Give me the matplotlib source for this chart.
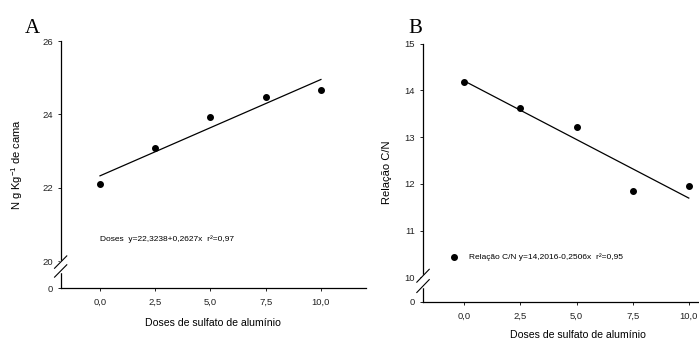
import numpy as np
import matplotlib
matplotlib.use('Agg')
import matplotlib.pyplot as plt

plt.rcParams['font.family'] = ['Liberation Sans', 'DejaVu Sans']
plt.rcParams['mathtext.fontset'] = 'custom'
plt.rcParams['mathtext.rm'] = 'Liberation Sans'
plt.rcParams['mathtext.it'] = 'Liberation Sans:italic'

## data
doses = [0.0, 2.5, 5.0, 7.5, 10.0]
dose_labels = ['0,0', '2,5', '5,0', '7,5', '10,0']
n_cama = [22.09, 23.07, 23.92, 24.48, 24.67]
rel_cn = [14.17, 13.63, 13.21, 11.84, 11.95]

# regression coefficients (from the figure)
a_n, b_n = 22.3238, 0.2627
a_cn, b_cn = 14.2016, -0.2506

# broken y axis: where the "0" sits on the compressed part
a_bottom = 19.265
b_bottom = 9.482
a_yticks = [a_bottom, 20, 22, 24, 26]
a_yticklabels = ['0', '20', '22', '24', '26']
b_yticks = [b_bottom, 10, 11, 12, 13, 14, 15]
b_yticklabels = ['0', '10', '11', '12', '13', '14', '15']

txt_a = 'Doses  y=22,3238+0,2627x  r\u00b2=0,97'
txt_b = 'Rela\u00e7\u00e3o C/N y=14,2016-0,2506x  r\u00b2=0,95'


def style_axes(ax, yticks, yticklabels, ylo, yhi, brk, sep, xpad):
    ax.set_xlim(-1.78, 12.04)
    ax.set_ylim(ylo, yhi)
    ax.set_xticks(doses)
    ax.set_xticklabels(dose_labels)
    ax.set_yticks(yticks)
    ax.set_yticklabels(yticklabels)
    ax.spines['top'].set_visible(False)
    ax.spines['right'].set_visible(False)
    for s in ['left', 'bottom']:
        ax.spines[s].set_linewidth(0.9)
    ax.tick_params(axis='both', direction='out', length=2.2, width=0.7,
                   labelsize=6.8, colors='#222222')
    ax.tick_params(axis='x', pad=5)
    ax.tick_params(axis='y', pad=3.5)
    ax.set_xlabel('Doses de sulfato de alum\u00ednio', fontsize=7.6, labelpad=xpad)
    # axis break marks "//"
    kw = dict(transform=ax.transAxes, color='black', lw=0.8, clip_on=False, zorder=4)
    ax.plot([0, 0], [brk - sep, brk + sep], color='white', lw=2.5,
            transform=ax.transAxes, clip_on=False, zorder=3)
    ax.plot([-0.02, 0.02], [brk + sep - 0.025, brk + sep + 0.025], **kw)
    ax.plot([-0.02, 0.02], [brk - sep - 0.025, brk - sep + 0.025], **kw)


fig = plt.figure(figsize=(6.99, 3.40), dpi=100)

# panel A
axA = fig.add_axes([0.0868, 0.1529, 0.4368, 0.7265])
xs = np.array([0, 10])
axA.plot(xs, a_n + b_n * xs, color='black', lw=0.9)
axA.plot(doses, n_cama, 'o', color='black', ms=4)
style_axes(axA, a_yticks, a_yticklabels, a_bottom, 26, 0.087, 0.018, 8)
axA.set_ylabel('N g Kg$^{-1}$ de cama', fontsize=8, labelpad=12)
axA.text(0, 20.60, txt_a, fontsize=6, va='center', ha='left')
fig.text(0.046, 0.903, 'A', family='Liberation Serif', fontsize=15,
         ha='center', va='baseline')

# panel B
axB = fig.add_axes([0.6052, 0.1132, 0.4444, 0.7583])
axB.plot(xs, a_cn + b_cn * xs, color='black', lw=0.9)
axB.plot(doses, rel_cn, 'o', color='black', ms=4)
style_axes(axB, b_yticks, b_yticklabels, b_bottom, 15, 0.08, 0.02, 6.5)
axB.set_xlim(-1.84, 12.0)
axB.set_ylabel('Rela\u00e7\u00e3o C/N', fontsize=8, labelpad=9)
axB.plot([-0.45], [10.43], 'o', color='black', ms=4)
axB.text(0.22, 10.43, txt_b, fontsize=6, va='center', ha='left')
fig.text(0.594, 0.903, 'B', family='Liberation Serif', fontsize=15,
         ha='center', va='baseline')

fig.savefig('out.png', dpi=100)
